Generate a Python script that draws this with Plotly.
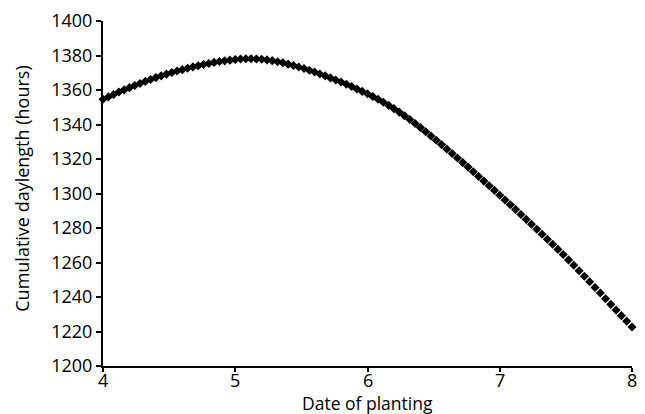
import plotly.graph_objects as go

# Date of planting (month, fractional)
planting_date = [
    4.00, 4.04, 4.08, 4.12, 4.16, 4.20, 4.24, 4.28, 4.32, 4.36,
    4.40, 4.44, 4.48, 4.52, 4.56, 4.60, 4.64, 4.68, 4.72, 4.76,
    4.80, 4.84, 4.88, 4.92, 4.96, 5.00, 5.04, 5.08, 5.12, 5.16,
    5.20, 5.24, 5.28, 5.32, 5.36, 5.40, 5.44, 5.48, 5.52, 5.56,
    5.60, 5.64, 5.68, 5.72, 5.76, 5.80, 5.84, 5.88, 5.92, 5.96,
    6.00, 6.04, 6.08, 6.12, 6.16, 6.20, 6.24, 6.28, 6.32, 6.36,
    6.40, 6.44, 6.48, 6.52, 6.56, 6.60, 6.64, 6.68, 6.72, 6.76,
    6.80, 6.84, 6.88, 6.92, 6.96, 7.00, 7.04, 7.08, 7.12, 7.16,
    7.20, 7.24, 7.28, 7.32, 7.36, 7.40, 7.44, 7.48, 7.52, 7.56,
    7.60, 7.64, 7.68, 7.72, 7.76, 7.80, 7.84, 7.88, 7.92, 7.96,
    8.00,
]

# Cumulative daylength (hours)
cumulative_daylength = [
    1354.6, 1356.0, 1357.4, 1358.8, 1360.1, 1361.4, 1362.6, 1363.8, 1365.0, 1366.1,
    1367.2, 1368.2, 1369.2, 1370.1, 1371.0, 1371.8, 1372.6, 1373.4, 1374.1, 1374.8,
    1375.4, 1376.0, 1376.5, 1376.9, 1377.3, 1377.7, 1377.95, 1378.1, 1378.1, 1378.0,
    1377.8, 1377.45, 1377.0, 1376.4, 1375.75, 1375.0, 1374.2, 1373.35, 1372.43, 1371.45,
    1370.4, 1369.3, 1368.2, 1367.0, 1365.8, 1364.6, 1363.3, 1362.0, 1360.6, 1359.2,
    1357.8, 1356.2, 1354.6, 1352.9, 1351.1, 1349.2, 1347.2, 1345.1, 1342.9, 1340.6,
    1338.2, 1335.8, 1333.35, 1330.85, 1328.35, 1325.8, 1323.2, 1320.6, 1317.9, 1315.3,
    1312.6, 1309.9, 1307.2, 1304.5, 1301.8, 1299.0, 1296.2, 1293.5, 1290.7, 1287.8,
    1285.0, 1282.2, 1279.3, 1276.4, 1273.5, 1270.6, 1267.6, 1264.6, 1261.5, 1258.4,
    1255.2, 1252.0, 1248.8, 1245.5, 1242.3, 1239.0, 1235.7, 1232.4, 1229.2, 1225.9,
    1222.6,
]

x_ticks = [4, 5, 6, 7, 8]
y_ticks = [1200, 1220, 1240, 1260, 1280, 1300, 1320, 1340, 1360, 1380, 1400]
x_title = "Date of planting"
y_title = "Cumulative daylength (hours)"

FONT = "Open Sans"
FS = 18

fig = go.Figure()
fig.add_trace(go.Scatter(
    x=planting_date,
    y=cumulative_daylength,
    mode="markers",
    marker=dict(symbol="diamond", size=7, color="black", line=dict(width=0)),
    cliponaxis=False,
    showlegend=False,
))

# x tick labels placed as annotations so they sit close to the axis
x_tick_annotations = [
    dict(text=str(v), x=v, xref="x", y=0, yref="paper", yanchor="top",
         xanchor="center", yshift=0, showarrow=False,
         font=dict(family=FONT, size=FS))
    for v in x_ticks
]

fig.update_layout(
    width=645,
    height=414,
    margin=dict(l=103, r=13, t=21, b=48, autoexpand=False),
    paper_bgcolor="white",
    plot_bgcolor="white",
    font=dict(family=FONT, size=FS, color="black"),
    xaxis=dict(
        range=[4, 8],
        tickvals=x_ticks,
        showticklabels=False,
        showgrid=False,
        zeroline=False,
        showline=True,
        linecolor="black",
        linewidth=2,
        ticks="outside",
        ticklen=4,
        tickwidth=1.5,
        tickcolor="black",
        automargin=False,
    ),
    yaxis=dict(
        range=[1200, 1400],
        tickvals=y_ticks,
        showgrid=False,
        zeroline=False,
        showline=True,
        linecolor="black",
        linewidth=2,
        ticks="outside",
        ticklen=5,
        tickwidth=1.5,
        tickcolor="black",
        tickfont=dict(family=FONT, size=FS),
        automargin=False,
    ),
    annotations=x_tick_annotations + [
        dict(text=x_title, xref="paper", yref="paper", x=0.5, y=-0.107,
             xanchor="center", yanchor="middle", showarrow=False,
             font=dict(family=FONT, size=17.5)),
        dict(text=y_title, xref="paper", yref="paper", x=-0.153, y=0.514,
             xanchor="center", yanchor="middle", textangle=-90, showarrow=False,
             font=dict(family=FONT, size=FS)),
    ],
)

fig.write_html(
    "out.html",
    config={"displayModeBar": False},
    post_script="document.body.style.margin='0';document.body.style.padding='0';",
)
